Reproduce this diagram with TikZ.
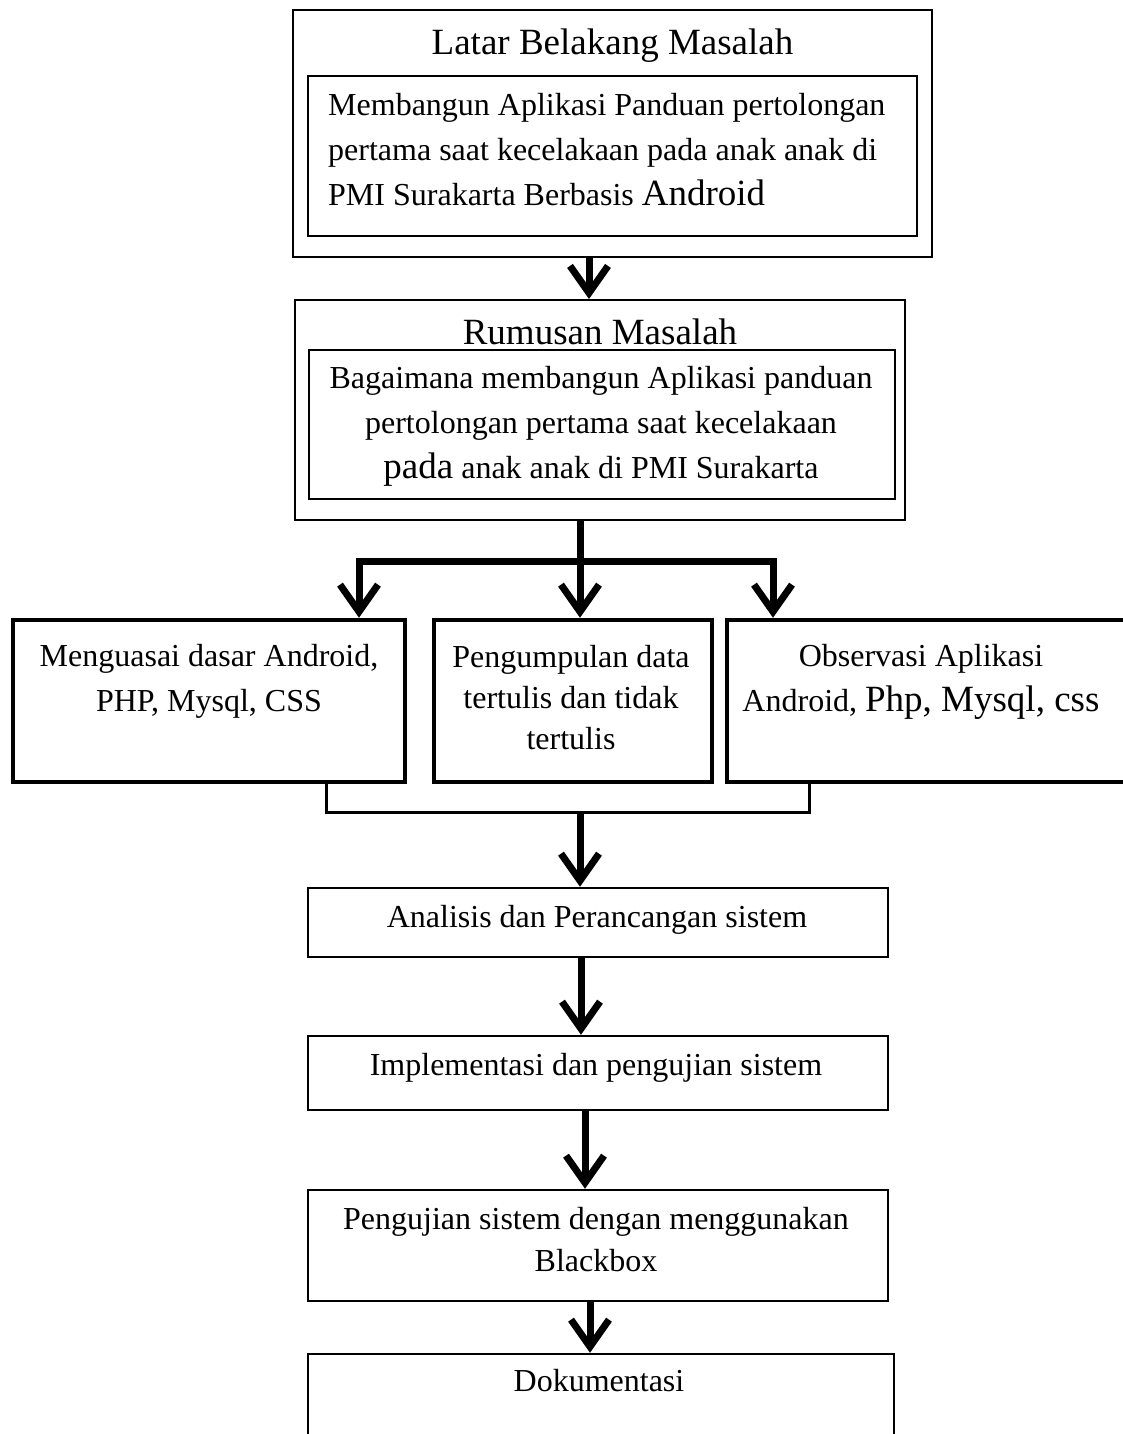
\documentclass[tikz,border=0pt]{standalone}
\usepackage{fontspec}
\setmainfont{Liberation Serif}
\usetikzlibrary{arrows.meta}

\newcommand{\bodysize}{\fontsize{32}{45}\selectfont}
\newcommand{\headsize}{\fontsize{37}{45}\selectfont}
\newcommand{\bigword}[1]{{\fontsize{37}{45}\selectfont #1}}

\tikzset{
  thinbox/.style={draw, line width=2pt, inner sep=0pt},
  thickbox/.style={draw, line width=4.5pt, inner sep=0pt},
  lowbox/.style={draw, line width=2.5pt, inner sep=0pt},
  dims/.style 2 args={minimum width=#1pt, minimum height=#2pt},
  body/.style={inner sep=0pt, font=\bodysize},
  head/.style={inner sep=0pt, font=\headsize},
  flow/.style={line width=7pt},
  flowarrow/.style={line width=7pt, line join=miter, -{Straight Barb[length=27pt, width=38pt]}},
  merge/.style={line width=3pt}
}

\begin{document}
\begin{tikzpicture}[x=1pt, y=-1pt]
  \useasboundingbox (0,0) rectangle (1122,1434);
  \fill[white] (0,0) rectangle (1122,1434);

  % --- background of the problem ---
  % (multi-line texts are anchored at the baseline of their last line)
  \node[thinbox, dims={639}{247}] (bg)   at (612.5,133.5) {};
  \node[thinbox, dims={609}{160}] (bgin) at (612.5,156) {};
  \node[head, anchor=base] (bgtitle) at (612.5,55) {Latar Belakang Masalah};
  \node[body, anchor=base west, align=left] (bgtext) at (328,206)
    {Membangun Aplikasi Panduan pertolongan\\
     pertama saat kecelakaan pada anak anak di\\
     PMI Surakarta Berbasis \bigword{Android}};

  % --- problem formulation ---
  \node[thinbox, dims={610}{220}] (rm)   at (600,410) {};
  \node[thinbox, dims={586}{149}] (rmin) at (602,424.5) {};
  \node[head, anchor=base] (rmtitle) at (600,344) {Rumusan Masalah};
  \node[body, anchor=base, align=center] (rmtext) at (601,478)
    {Bagaimana membangun Aplikasi panduan\\
     pertolongan pertama saat kecelakaan\\
     \bigword{pada} anak anak di PMI Surakarta};

  % --- three parallel activities ---
  \node[thickbox, dims={392}{162}] (m1) at (209,701) {};
  \node[thickbox, dims={278}{162}] (m2) at (573,701) {};
  \node[thickbox, dims={403}{162}] (m3) at (928.5,701) {};
  \node[body, anchor=base, align=center] (m1text) at (209,711)
    {Menguasai dasar Android,\\PHP, Mysql, CSS};
  \node[body, anchor=base, align=center, font=\fontsize{32}{41}\selectfont] (m2text) at (571,749)
    {Pengumpulan data\\tertulis dan tidak\\tertulis};
  \node[body, anchor=base, align=center] (m3text) at (921,711)
    {Observasi Aplikasi\\Android, \bigword{Php, Mysql, css}};

  % --- sequential stages ---
  \node[lowbox, dims={580}{69}]  (an) at (598,922.5) {};
  \node[body, anchor=base] (antext) at (597,927) {Analisis dan Perancangan sistem};
  \node[lowbox, dims={580}{74}]  (im) at (598,1073) {};
  \node[body, anchor=base] (imtext) at (596,1075) {Implementasi dan pengujian sistem};
  \node[lowbox, dims={580}{111}] (pj) at (598,1245.5) {};
  \node[body, anchor=base, align=center, font=\fontsize{32}{42}\selectfont] (pjtext) at (596,1271)
    {Pengujian sistem dengan menggunakan\\Blackbox};
  \node[lowbox, dims={586}{96}]  (dk) at (601,1402) {};
  \node[body, anchor=base] (dktext) at (599,1391) {Dokumentasi};

  % --- connector guide positions ---
  \coordinate (x1) at (589,0);
  \coordinate (split) at (580,561);
  \coordinate (xl) at (359,0);
  \coordinate (xr) at (773,0);
  \coordinate (jl) at (326,812);
  \coordinate (jr) at (809,812);
  \coordinate (join) at (580,812);
  \coordinate (x2) at (581,0);
  \coordinate (x3) at (585,0);
  \coordinate (x4) at (590,0);

  % --- connectors ---
  \draw[flowarrow] (bg.south -| x1) -- (rm.north -| x1);
  \draw[flow] (rm.south -| split) -- (split);
  \draw[flowarrow] ([xshift=3.5pt]split) -| (m1.north -| xl);
  \draw[flowarrow] (split) -- (m2.north -| split);
  \draw[flowarrow] ([xshift=-3.5pt]split) -| (m3.north -| xr);
  \draw[merge] (m1.south -| jl) -- (jl) -- (jr) -- (m3.south -| jr);
  \draw[flowarrow] (join) -- (an.north -| join);
  \draw[flowarrow] (an.south -| x2) -- (im.north -| x2);
  \draw[flowarrow] (im.south -| x3) -- (pj.north -| x3);
  \draw[flowarrow] (pj.south -| x4) -- (dk.north -| x4);
\end{tikzpicture}
\end{document}
